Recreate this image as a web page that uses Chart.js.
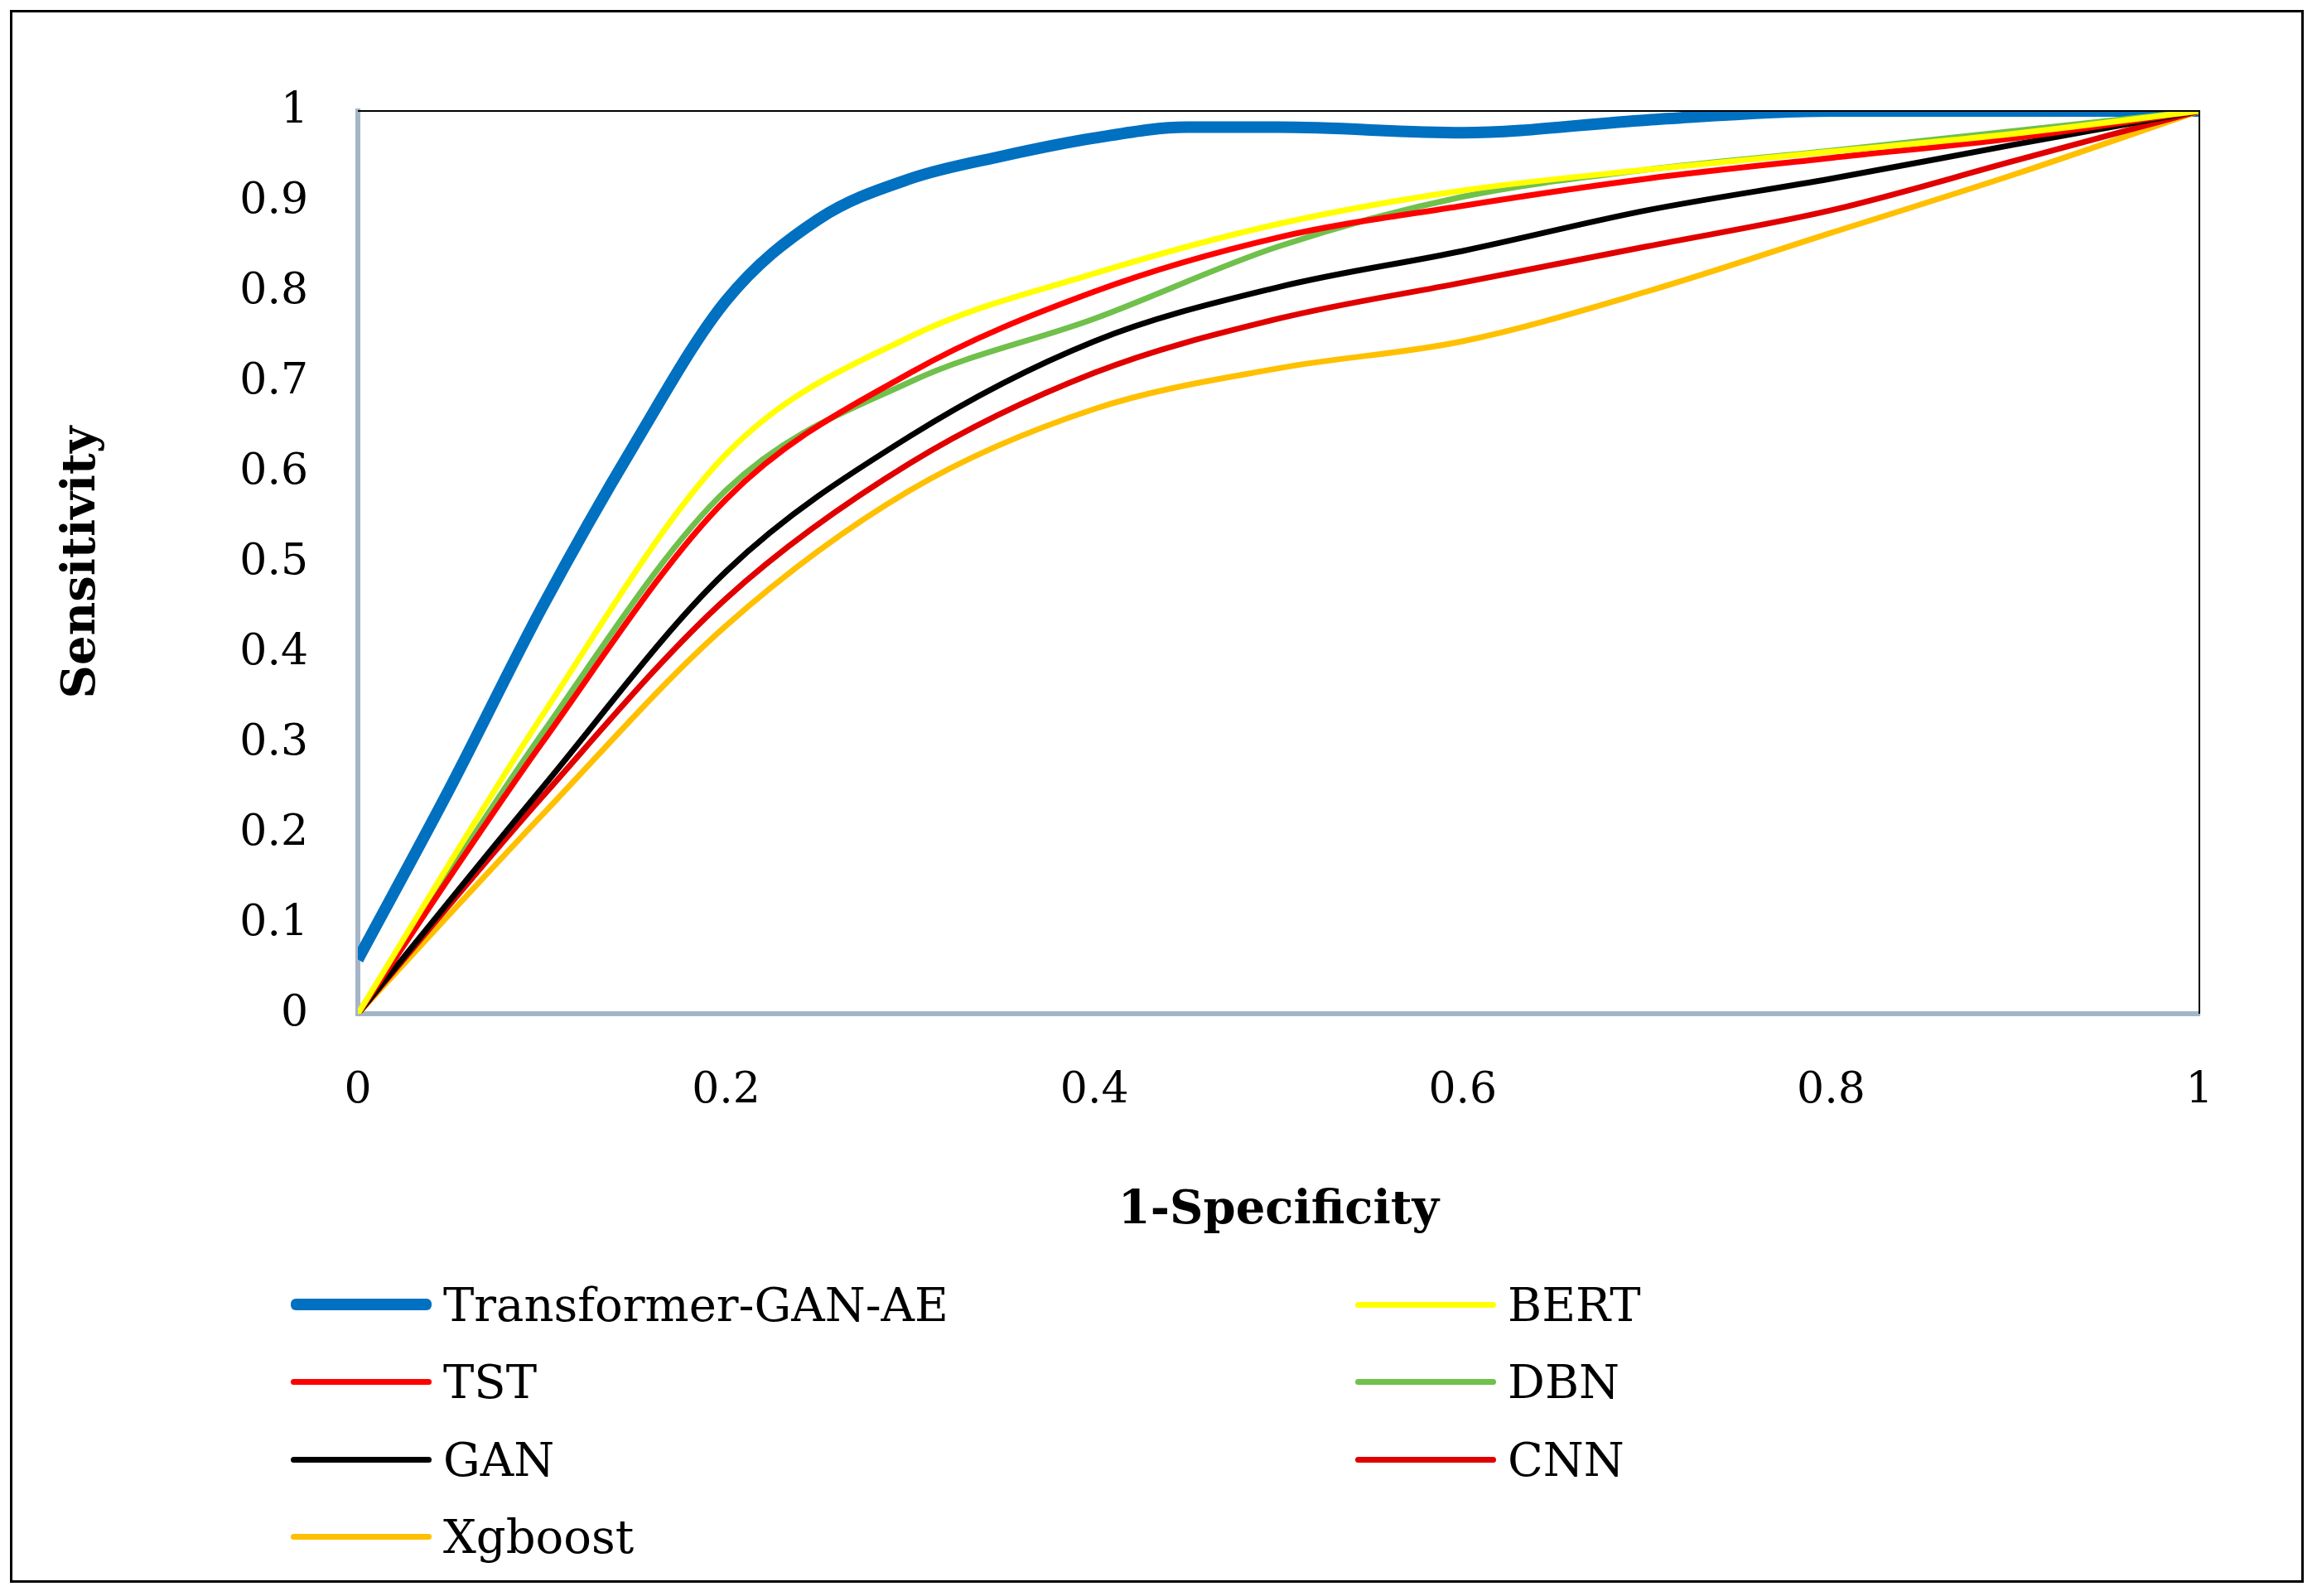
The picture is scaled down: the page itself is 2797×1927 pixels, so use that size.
<!DOCTYPE html>
<html><head><meta charset="utf-8">
<script src="https://cdn.jsdelivr.net/npm/chart.js@4"></script>
<style>
body{margin:0;background:#fff;width:2797px;height:1927px;position:relative;overflow:hidden;font-family:"DejaVu Serif",serif}
#frame{position:absolute;left:12px;top:12px;width:2769px;height:1899px;border:3px solid #000;box-sizing:border-box}
#wrap{position:absolute;left:0;top:0;width:2797px;height:1500px}
.lg{position:absolute;font-size:56px;color:#000;display:flex;align-items:center;height:80px}
.lg span.ln{display:inline-block;width:170px;margin-right:14px;border-radius:6px}
</style></head><body>
<div id="frame"></div>
<div id="wrap"><canvas id="c"></canvas></div>
<div id="legend"></div>
<script>
const xs=[0,0.1,0.2,0.3,0.4,0.5,0.6,0.7,0.8,0.9,1];
const seriesNames=["Transformer-GAN-AE","BERT","TST","DBN","GAN","CNN","Xgboost"];
const transformerX=[0,0.05,0.1,0.15,0.2,0.25,0.3,0.35,0.4,0.45,0.5,0.6,0.7,0.8,1];
const transformerY=[0.06,0.25,0.45,0.63,0.79,0.88,0.925,0.95,0.97,0.982,0.982,0.976,0.99,1,1];
const bert=[0,0.33,0.62,0.75,0.82,0.875,0.912,0.935,0.955,0.975,1];
const tst=[0,0.3,0.57,0.71,0.8,0.86,0.895,0.925,0.948,0.97,1];
const dbn=[0,0.31,0.58,0.7,0.77,0.85,0.905,0.935,0.956,0.978,1];
const gan=[0,0.25,0.49,0.64,0.745,0.805,0.845,0.89,0.925,0.963,1];
const cnn=[0,0.24,0.46,0.61,0.71,0.77,0.81,0.85,0.89,0.945,1];
const xgb=[0,0.22,0.43,0.58,0.67,0.715,0.745,0.8,0.865,0.93,1];
const colors=["#0070C0","#FFFF00","#FF0000","#70C04C","#000000","#E00000","#FFC000"];
const widths=[14,7,7,7,7,7,7];
const ys=[null,bert,tst,dbn,gan,cnn,xgb];
const datasets=seriesNames.map((n,i)=>({
  label:n,
  data:i===0?transformerX.map((x,k)=>({x,y:transformerY[k]})):xs.map((x,k)=>({x,y:ys[i][k]})),
  borderColor:colors[i],borderWidth:widths[i],pointRadius:0,
  cubicInterpolationMode:'monotone',fill:false,order:i===0?10:i
}));
datasets.reverse();
const F="'DejaVu Serif', serif";
const border={id:'bd',afterDraw(ch){const a=ch.chartArea,c=ch.ctx;c.save();c.strokeStyle='#000';c.lineWidth=2;
c.beginPath();c.moveTo(a.left,a.top);c.lineTo(a.right,a.top);c.lineTo(a.right,a.bottom);c.stroke();c.restore();}};
new Chart(document.getElementById('c'),{type:'line',data:{datasets},plugins:[border],
options:{responsive:true,maintainAspectRatio:false,animation:false,
layout:{padding:{top:134,right:142,left:62,bottom:0}},
plugins:{legend:{display:false},tooltip:{enabled:false}},
scales:{
x:{type:'linear',min:0,max:1,ticks:{stepSize:0.2,font:{family:F,size:52},color:'#000',padding:62,callback:v=>+v.toFixed(1)},
 grid:{display:false,drawTicks:false},border:{color:'#A5B5C8',width:6},
 title:{display:true,text:'1-Specificity',font:{family:F,size:56,weight:'bold'},color:'#000',padding:{top:18}},
 afterFit(s){s.height=276;}},
y:{min:0,max:1,ticks:{stepSize:0.1,font:{family:F,size:52},color:'#000',padding:60,callback:v=>+v.toFixed(1)},
 grid:{display:false,drawTicks:false},border:{color:'#A5B5C8',width:6},
 title:{display:true,text:'Sensitivity',font:{family:F,size:56,weight:'bold'},color:'#000'},
 afterFit(s){s.width=370;}}
}}});
const pos=[[351,1575],[1636,1575],[351,1668],[1636,1668],[351,1762],[1636,1762],[351,1855]];
const lg=document.getElementById('legend');
pos.forEach((p,i)=>{const d=document.createElement('div');d.className='lg';
d.style.left=p[0]+'px';d.style.top=(p[1]-40)+'px';
d.innerHTML=`<span class="ln" style="height:${widths[i]}px;background:${colors[i]}"></span>${seriesNames[i]}`;lg.appendChild(d);});
</script></body></html>
